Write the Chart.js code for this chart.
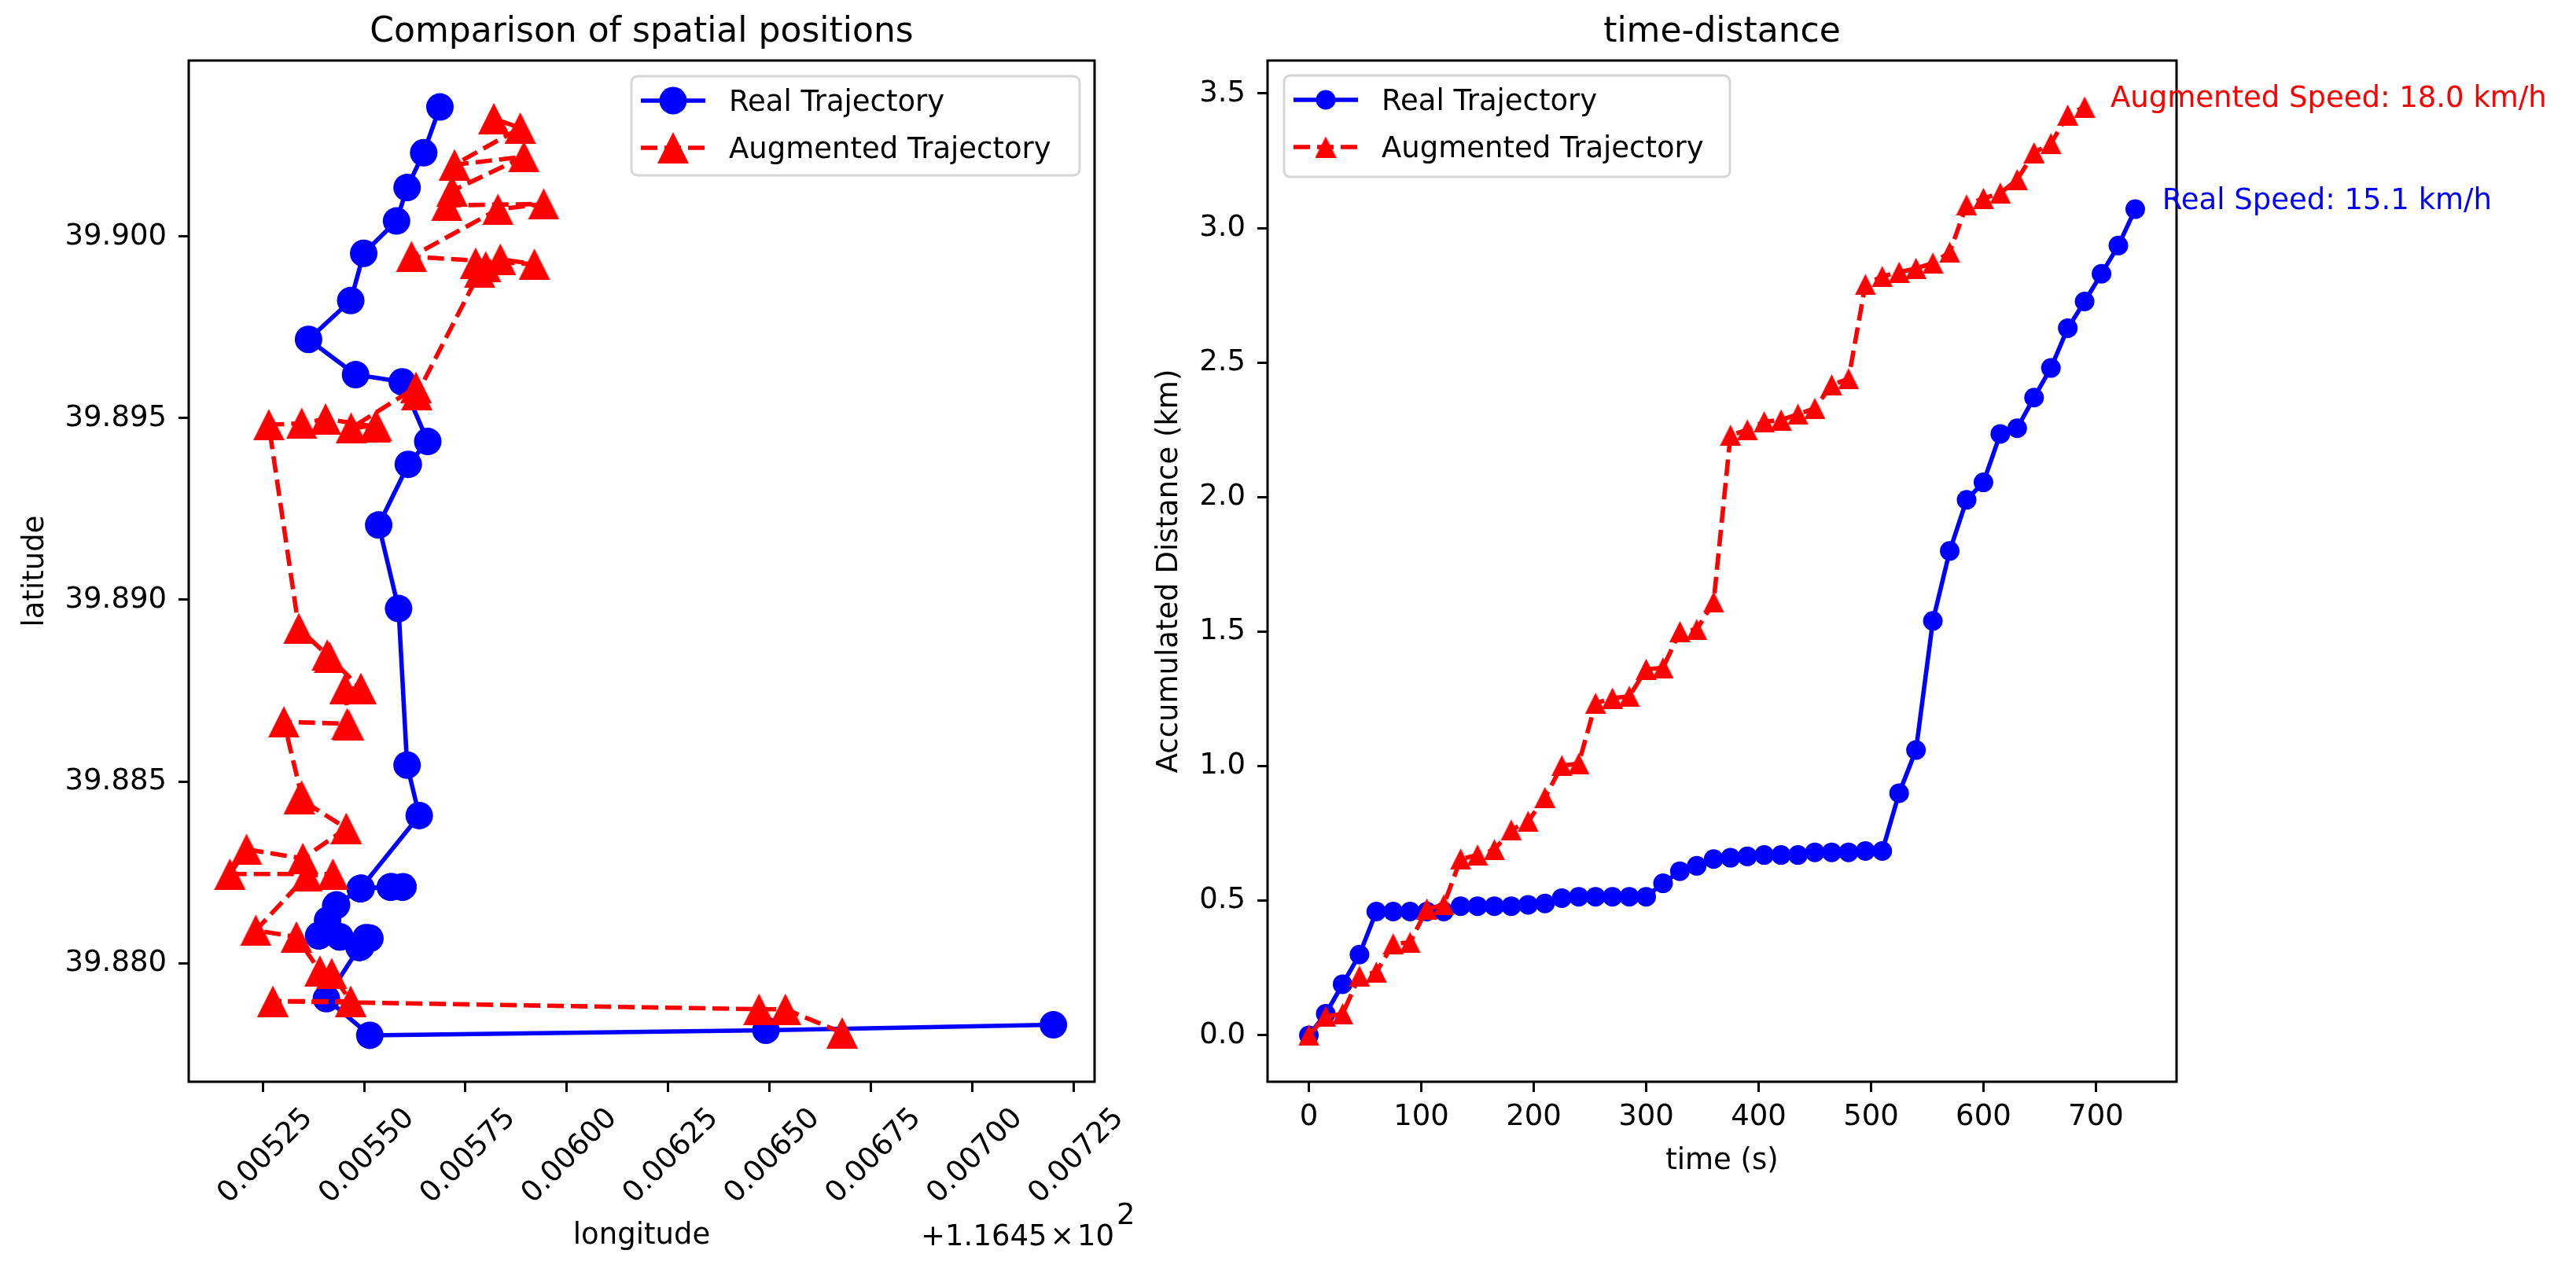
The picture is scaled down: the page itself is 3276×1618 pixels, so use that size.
<!DOCTYPE html>
<html>
<head>
<meta charset="utf-8">
<title>Trajectory comparison</title>
<script src="https://cdn.jsdelivr.net/npm/chart.js"></script>
<style>
  html, body { margin: 0; padding: 0; background: #fff; overflow: hidden; }
  #page { position: relative; width: 3276px; height: 1618px; }
  canvas { position: absolute; top: 0; }
  #space { left: 0; }
  #dist { left: 1440px; }
</style>
</head>
<body>
<div id="page">
  <canvas id="space" width="1560" height="1618"></canvas>
  <canvas id="dist" width="1836" height="1618"></canvas>
</div>
<script>
// longitude values are offsets from 116.45 (the axis prints them that way)
const lonOffsetText = "+1.1645\u200a\u00d7\u200a10"
const lonOffsetExp = "2"

const realLon = [0.007200, 0.006491, 0.005514, 0.005407, 0.005488, 0.005488, 0.005490, 0.005490, 0.005492, 0.005514,
    0.005514, 0.005512, 0.005512, 0.005505, 0.005440, 0.005440, 0.005388, 0.005388, 0.005389, 0.005389,
    0.005390, 0.005410, 0.005430, 0.005432, 0.005491, 0.005491, 0.005565, 0.005565, 0.005594, 0.005594,
    0.005596, 0.005567, 0.005567, 0.005493, 0.005491, 0.005636, 0.005606, 0.005585, 0.005536, 0.005609,
    0.005657, 0.005594, 0.005479, 0.005363, 0.005467, 0.005499, 0.005580, 0.005606, 0.005647, 0.005687]
const realLat = [39.87830, 39.87815, 39.87801, 39.87902, 39.88043, 39.88043, 39.88044, 39.88044, 39.88045, 39.88068,
    39.88068, 39.88069, 39.88069, 39.88070, 39.88072, 39.88072, 39.88075, 39.88075, 39.88076, 39.88076,
    39.88076, 39.88118, 39.88158, 39.88160, 39.88205, 39.88205, 39.88209, 39.88209, 39.88209, 39.88209,
    39.88210, 39.88210, 39.88210, 39.88206, 39.88205, 39.88406, 39.88545, 39.88976, 39.89206, 39.89373,
    39.89436, 39.89600, 39.89620, 39.89717, 39.89824, 39.89954, 39.90043, 39.90135, 39.90231, 39.90357]

const augLon = [0.006679, 0.006539, 0.006474, 0.005275, 0.005467, 0.005420, 0.005391, 0.005333, 0.005233, 0.005359,
    0.005423, 0.005169, 0.005210, 0.005349, 0.005456, 0.005340, 0.005346, 0.005302, 0.005458, 0.005462,
    0.005453, 0.005492, 0.005409, 0.005415, 0.005339, 0.005265, 0.005346, 0.005405, 0.005527, 0.005530,
    0.005468, 0.005628, 0.005630, 0.005785, 0.005775, 0.005800, 0.005836, 0.005920, 0.005617, 0.005830,
    0.005943, 0.005704, 0.005717, 0.005894, 0.005723, 0.005885, 0.005820]
const augLat = [39.87808, 39.87873, 39.87873, 39.87895, 39.87895, 39.87971, 39.87978, 39.88072, 39.88090, 39.88241,
    39.88245, 39.88245, 39.88313, 39.88288, 39.88371, 39.88453, 39.88460, 39.88664, 39.88659, 39.88655,
    39.88756, 39.88756, 39.88848, 39.88842, 39.88921, 39.89482, 39.89486, 39.89498, 39.89477, 39.89480,
    39.89473, 39.89585, 39.89565, 39.89902, 39.89927, 39.89917, 39.89938, 39.89924, 39.89945, 39.90075,
    39.90090, 39.90086, 39.90126, 39.90220, 39.90198, 39.90299, 39.90325]

const realTime = [0, 15, 30, 45, 60, 75, 90, 105, 120, 135, 150, 165, 180, 195, 210, 225, 240, 255, 270, 285,
    300, 315, 330, 345, 360, 375, 390, 405, 420, 435, 450, 465, 480, 495, 510, 525, 540, 555, 570, 585,
    600, 615, 630, 645, 660, 675, 690, 705, 720, 735]
const realDist = [0, 0.08, 0.19, 0.30, 0.46, 0.46, 0.46, 0.46, 0.46, 0.48,
    0.48, 0.48, 0.48, 0.485, 0.49, 0.51, 0.515, 0.515, 0.515, 0.515,
    0.515, 0.565, 0.61, 0.63, 0.655, 0.66, 0.665, 0.67, 0.67, 0.67,
    0.68, 0.68, 0.68, 0.685, 0.685, 0.90, 1.06, 1.54, 1.80, 1.99,
    2.055, 2.235, 2.256, 2.37, 2.48, 2.628, 2.727, 2.83, 2.935, 3.07]

const augTime = [0, 15, 30, 45, 60, 75, 90, 105, 120, 135, 150, 165, 180, 195, 210, 225, 240, 255, 270, 285,
    300, 315, 330, 345, 360, 375, 390, 405, 420, 435, 450, 465, 480, 495, 510, 525, 540, 555, 570, 585,
    600, 615, 630, 645, 660, 675, 690]
const augDist = [0, 0.07, 0.08, 0.22, 0.235, 0.34, 0.345, 0.47, 0.485, 0.655,
    0.67, 0.69, 0.763, 0.795, 0.884, 1.002, 1.01, 1.234, 1.253, 1.26,
    1.36, 1.366, 1.50, 1.508, 1.61, 2.23, 2.25, 2.28, 2.287, 2.308,
    2.33, 2.417, 2.44, 2.79, 2.82, 2.836, 2.85, 2.87, 2.91, 3.086,
    3.11, 3.13, 3.18, 3.28, 3.314, 3.42, 3.45]

const lonTicks = [0.00525, 0.0055, 0.00575, 0.006, 0.00625, 0.0065, 0.00675, 0.007, 0.00725]
const latTicks = [39.880, 39.885, 39.890, 39.895, 39.900]
const timeTicks = [0, 100, 200, 300, 400, 500, 600, 700]
const distTicks = [0, 0.5, 1.0, 1.5, 2.0, 2.5, 3.0, 3.5]

const seriesNames = ["Real Trajectory", "Augmented Trajectory"]
const speedText = ["Real Speed: 15.1 km/h", "Augmented Speed: 18.0 km/h"]
const speedAtTime = [759, 713]
const speedAtDist = [3.07, 3.45]

const FONT = "DejaVu Sans"
const BLUE = "#0000ff"
const RED = "#ff0000"

Chart.defaults.font.family = FONT
Chart.defaults.color = "#000"

function triangle(size, color) {
    let c = document.createElement("canvas")
    c.width = size
    c.height = size
    let g = c.getContext("2d")
    g.fillStyle = color
    g.beginPath()
    g.moveTo(size / 2, 0)
    g.lineTo(size, size)
    g.lineTo(0, size)
    g.closePath()
    g.fill()
    return c
}
const bigTri = triangle(40, RED)
const smallTri = triangle(27, RED)

function padRange(values) {
    let lo = Math.min(...values)
    let hi = Math.max(...values)
    let m = (hi - lo) * 0.05
    return [lo - m, hi + m]
}

function points(xs, ys) {
    return xs.map((x, i) => ({ x: x, y: ys[i] }))
}

const tickMarks = { display: true, drawOnChartArea: false, drawTicks: true, tickLength: 13, tickWidth: 3, tickColor: "#000" }

function fixedTicks(list) {
    return (axis) => { axis.ticks = list.map(v => ({ value: v })) }
}

const frame = {
    id: "frame",
    afterDatasetsDraw(chart) {
        let { ctx, chartArea: a } = chart
        ctx.save()
        ctx.strokeStyle = "#000"
        ctx.lineWidth = 3
        ctx.strokeRect(a.left, a.top, a.right - a.left, a.bottom - a.top)
        ctx.restore()
    }
}

function drawLegend(ctx, left, top, width, height, circleR, tri) {
    ctx.save()
    ctx.beginPath()
    ctx.roundRect(left, top, width, height, 7.5)
    ctx.fillStyle = "rgba(255,255,255,0.8)"
    ctx.fill()
    ctx.lineWidth = 3
    ctx.strokeStyle = "#d5d5d5"
    ctx.stroke()

    let rows = [top + 31, top + 91]
    let colors = [BLUE, RED]
    for (let i = 0; i < 2; i++) {
        let y = rows[i]
        ctx.strokeStyle = colors[i]
        ctx.lineWidth = 5.6
        ctx.setLineDash(i == 1 ? [21, 9] : [])
        ctx.beginPath()
        ctx.moveTo(left + 12, y)
        ctx.lineTo(left + 94, y)
        ctx.stroke()
        ctx.setLineDash([])
        if (i == 0) {
            ctx.fillStyle = BLUE
            ctx.beginPath()
            ctx.arc(left + 53, y, circleR, 0, Math.PI * 2)
            ctx.fill()
        } else {
            ctx.drawImage(tri, left + 53 - tri.width / 2, y - tri.height / 2)
        }
        ctx.fillStyle = "#000"
        ctx.font = "37px '" + FONT + "'"
        ctx.textAlign = "left"
        ctx.textBaseline = "alphabetic"
        ctx.fillText(seriesNames[i], left + 124, y + 13)
    }
    ctx.restore()
}

function drawTitle(chart, text) {
    let { ctx, chartArea: a } = chart
    ctx.save()
    ctx.font = "44px '" + FONT + "'"
    ctx.fillStyle = "#000"
    ctx.textAlign = "center"
    ctx.textBaseline = "alphabetic"
    ctx.fillText(text, (a.left + a.right) / 2, 53)
    ctx.restore()
}

const spaceDecor = {
    id: "spaceDecor",
    afterDraw(chart) {
        let { ctx, chartArea: a } = chart
        drawTitle(chart, "Comparison of spatial positions")
        drawLegend(ctx, a.left + 563, a.top + 20, 570, 126, 17.5, bigTri)
        ctx.save()
        ctx.fillStyle = "#000"
        ctx.textBaseline = "alphabetic"
        ctx.textAlign = "right"
        ctx.font = "37px '" + FONT + "'"
        ctx.fillText(lonOffsetText, a.right + 25, 1584)
        ctx.textAlign = "left"
        ctx.fillText(lonOffsetExp, a.right + 28, 1557)
        ctx.restore()
    }
}

const distDecor = {
    id: "distDecor",
    afterDraw(chart) {
        let { ctx, chartArea: a, scales } = chart
        drawTitle(chart, "time-distance")
        drawLegend(ctx, a.left + 21, a.top + 19, 567, 129, 12.5, smallTri)
        ctx.save()
        ctx.font = "37px '" + FONT + "'"
        ctx.textAlign = "left"
        ctx.textBaseline = "alphabetic"
        let colors = [BLUE, RED]
        for (let i = 0; i < speedText.length; i++) {
            ctx.fillStyle = colors[i]
            ctx.fillText(speedText[i], scales.x.getPixelForValue(speedAtTime[i]), scales.y.getPixelForValue(speedAtDist[i]))
        }
        ctx.restore()
    }
}

let lonRange = padRange(realLon.concat(augLon))
let latRange = padRange(realLat.concat(augLat))

new Chart(document.getElementById("space"), {
    type: "scatter",
    data: {
        datasets: [{
            label: seriesNames[0],
            data: points(realLon, realLat),
            showLine: true,
            borderColor: BLUE,
            backgroundColor: BLUE,
            borderWidth: 5.6,
            borderJoinStyle: "round",
            pointStyle: "circle",
            pointRadius: 17.5,
            pointBorderWidth: 0,
            pointBackgroundColor: BLUE,
            order: 2
        }, {
            label: seriesNames[1],
            data: points(augLon, augLat),
            showLine: true,
            borderColor: RED,
            backgroundColor: RED,
            borderWidth: 5.6,
            borderDash: [21, 9],
            borderJoinStyle: "round",
            pointStyle: bigTri,
            pointRadius: 20,
            order: 1
        }]
    },
    options: {
        responsive: false,
        animation: false,
        devicePixelRatio: 1,
        events: [],
        layout: { padding: { left: 0, top: 77, right: 168, bottom: 0 } },
        plugins: { legend: { display: false }, tooltip: { enabled: false } },
        scales: {
            x: {
                type: "linear",
                min: lonRange[0],
                max: lonRange[1],
                afterBuildTicks: fixedTicks(lonTicks),
                afterFit: (s) => { s.height = 242 },
                grid: tickMarks,
                border: { display: false },
                ticks: {
                    autoSkip: false,
                    minRotation: 45,
                    maxRotation: 45,
                    padding: 12,
                    labelOffset: 58,
                    font: { size: 37 },
                    callback: (v) => v.toFixed(5)
                },
                title: { display: true, text: "longitude", font: { size: 37 }, padding: { top: 0, bottom: 23 } }
            },
            y: {
                type: "linear",
                min: latRange[0],
                max: latRange[1],
                afterBuildTicks: fixedTicks(latTicks),
                afterFit: (s) => { s.width = 240 },
                grid: tickMarks,
                border: { display: false },
                ticks: { autoSkip: false, padding: 15, font: { size: 37 }, callback: (v) => v.toFixed(3) },
                title: { display: true, text: "latitude", font: { size: 37 }, padding: { top: 23, bottom: 0 } }
            }
        }
    },
    plugins: [frame, spaceDecor]
})

let timeRange = padRange(realTime.concat(augTime))
let distRange = padRange(realDist.concat(augDist))

new Chart(document.getElementById("dist"), {
    type: "scatter",
    data: {
        datasets: [{
            label: seriesNames[0],
            data: points(realTime, realDist),
            showLine: true,
            borderColor: BLUE,
            backgroundColor: BLUE,
            borderWidth: 5.6,
            borderJoinStyle: "round",
            pointStyle: "circle",
            pointRadius: 12.5,
            pointBorderWidth: 0,
            pointBackgroundColor: BLUE,
            order: 2
        }, {
            label: seriesNames[1],
            data: points(augTime, augDist),
            showLine: true,
            borderColor: RED,
            backgroundColor: RED,
            borderWidth: 5.6,
            borderDash: [21, 9],
            borderJoinStyle: "round",
            pointStyle: smallTri,
            pointRadius: 14,
            order: 1
        }]
    },
    options: {
        responsive: false,
        animation: false,
        devicePixelRatio: 1,
        events: [],
        layout: { padding: { left: 0, top: 77, right: 508, bottom: 0 } },
        plugins: { legend: { display: false }, tooltip: { enabled: false } },
        scales: {
            x: {
                type: "linear",
                min: timeRange[0],
                max: timeRange[1],
                afterBuildTicks: fixedTicks(timeTicks),
                afterFit: (s) => { s.height = 242 },
                grid: tickMarks,
                border: { display: false },
                ticks: { autoSkip: false, maxRotation: 0, padding: 10, font: { size: 37 }, callback: (v) => String(v) },
                title: { display: true, text: "time (s)", font: { size: 37 }, padding: { top: 0, bottom: 118 } }
            },
            y: {
                type: "linear",
                min: distRange[0],
                max: distRange[1],
                afterBuildTicks: fixedTicks(distTicks),
                afterFit: (s) => { s.width = 172 },
                grid: tickMarks,
                border: { display: false },
                ticks: { autoSkip: false, padding: 15, font: { size: 37 }, callback: (v) => v.toFixed(1) },
                title: { display: true, text: "Accumulated Distance (km)", font: { size: 37 }, padding: { top: 25, bottom: 0 } }
            }
        }
    },
    plugins: [frame, distDecor]
})
</script>
</body>
</html>
